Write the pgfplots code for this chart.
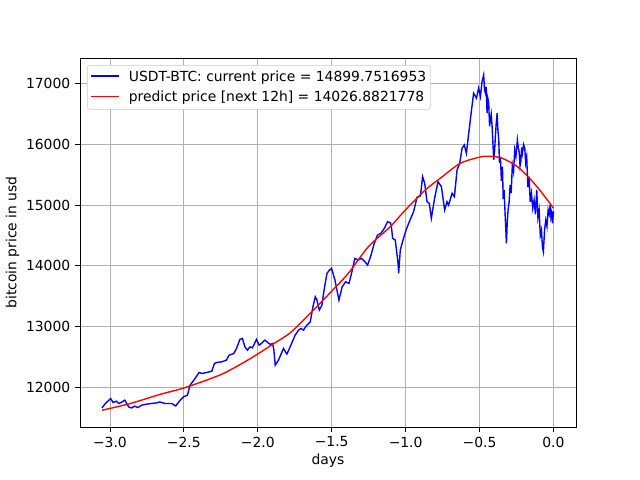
\documentclass[border=0pt]{standalone}
\usepackage{pgfplots}
\pgfplotsset{compat=1.18}
\usepackage{fontspec}
\setmainfont{DejaVu Sans}
\newcommand{\legline}[1]{\textcolor{#1}{\rule[0.33em]{20pt}{1pt}}\hspace{7pt}}
\begin{document}
\begin{tikzpicture}
\begin{axis}[
  at={(0pt,0pt)}, anchor=south west,
  scale only axis, width=357.12pt, height=265.68pt,
  xmin=-3.2025, xmax=0.1525, ymin=11344, ymax=17426,
  scaled y ticks=false, scaled x ticks=false,
  xtick={-3,-2.5,-2,-1.5,-1,-0.5,0},
  xticklabels={−3.0,−2.5,−2.0,−1.5,−1.0,−0.5,0.0},
  ytick={12000,13000,14000,15000,16000,17000},
  yticklabels={12000,13000,14000,15000,16000,17000},
  tick align=outside, major tick length=3.5pt,
  tick style={black, line width=0.576pt},
  xtick pos=bottom, ytick pos=left,
  axis line style={line width=0.576pt},
  grid=major, grid style={color=black!31, line width=0.576pt},
  tick label style={font=\fontsize{10}{12}\selectfont},
  xlabel={days}, ylabel={bitcoin price in usd},
  label style={font=\fontsize{10}{12}\selectfont},
  xlabel style={yshift=2pt},
  ylabel style={yshift=-2pt},
  legend style={at={(0.014,0.981)}, anchor=north west, draw=black!20, rounded corners=2pt,
     font=\fontsize{10}{12}\selectfont, row sep=1.5pt, inner xsep=1pt, inner ysep=2pt},
  legend cell align=left,
  legend image code/.code={},
]
\addplot[color=blue, line width=1pt] coordinates {
(-3.0535,11658) (-3.031,11731) (-2.995,11814) (-2.979,11748) (-2.957,11769) (-2.940,11731)
(-2.918,11757) (-2.900,11786) (-2.873,11675) (-2.855,11658) (-2.832,11687) (-2.810,11665)
(-2.787,11703) (-2.754,11720) (-2.720,11731) (-2.686,11741) (-2.663,11757) (-2.627,11731)
(-2.582,11731) (-2.555,11691) (-2.525,11786) (-2.503,11840) (-2.476,11868) (-2.458,12033)
(-2.424,12144) (-2.397,12243) (-2.378,12226) (-2.345,12243) (-2.311,12264) (-2.293,12391)
(-2.277,12408) (-2.246,12417) (-2.212,12446) (-2.194,12528) (-2.162,12556) (-2.144,12639)
(-2.121,12787) (-2.104,12804) (-2.087,12665) (-2.070,12611) (-2.053,12665) (-2.036,12649)
(-2.009,12787) (-1.991,12693) (-1.975,12721) (-1.952,12776) (-1.930,12731) (-1.914,12705)
(-1.900,12721) (-1.891,12611) (-1.882,12363) (-1.860,12446) (-1.826,12639) (-1.803,12545)
(-1.776,12693) (-1.747,12858) (-1.724,12941) (-1.708,12969) (-1.691,12941) (-1.668,13023)
(-1.645,13077) (-1.627,13325) (-1.611,13490) (-1.600,13436) (-1.584,13271) (-1.566,13353)
(-1.555,13546) (-1.544,13711) (-1.532,13876) (-1.515,13931) (-1.501,13959) (-1.478,13766)
(-1.451,13436) (-1.429,13655) (-1.406,13737) (-1.383,13711) (-1.366,13876) (-1.343,14123)
(-1.320,14096) (-1.298,14123) (-1.275,14068) (-1.257,14013) (-1.234,14178) (-1.212,14371)
(-1.190,14508) (-1.167,14536) (-1.144,14619) (-1.122,14727) (-1.104,14711) (-1.097,14673)
(-1.088,14454) (-1.070,14426) (-1.051,14041) (-1.047,13876) (-1.036,14261) (-1.014,14454)
(-0.997,14591) (-0.975,14727) (-0.946,14892) (-0.923,15130) (-0.900,15152) (-0.885,15470)
(-0.871,15361) (-0.855,15057) (-0.840,15031) (-0.826,14784) (-0.804,15114) (-0.781,15387)
(-0.758,15305) (-0.736,14920) (-0.720,15057) (-0.709,15003) (-0.686,15196) (-0.670,15140)
(-0.652,15581) (-0.634,15691) (-0.618,15939) (-0.603,15993) (-0.589,15856) (-0.573,16186)
(-0.557,16516) (-0.540,16846) (-0.521,16764) (-0.506,16929) (-0.494,16790) (-0.483,17037)
(-0.472,17148) (-0.466,16900) (-0.460,16846) (-0.455,16950) (-0.449,16516) (-0.443,16750)
(-0.438,16681) (-0.432,16300) (-0.427,16406) (-0.421,16500) (-0.415,16295) (-0.410,16050)
(-0.404,15746) (-0.398,15900) (-0.393,16130) (-0.387,16350) (-0.381,16516) (-0.376,16250)
(-0.370,16076) (-0.365,15700) (-0.359,15800) (-0.352,15400) (-0.345,15635) (-0.340,15100)
(-0.334,15251) (-0.326,14800) (-0.318,14371) (-0.313,14700) (-0.307,14921) (-0.300,15050)
(-0.293,15333) (-0.286,15200) (-0.278,15663) (-0.270,15550) (-0.262,15911) (-0.254,15800)
(-0.244,16076) (-0.238,15950) (-0.232,15882) (-0.226,15650) (-0.221,15717) (-0.215,15950)
(-0.210,15856) (-0.202,16000) (-0.194,15939) (-0.188,15700) (-0.181,15800) (-0.173,15300)
(-0.165,15470) (-0.157,15050) (-0.149,15196) (-0.140,14950) (-0.131,15085) (-0.122,14850)
(-0.113,15251) (-0.105,14800) (-0.097,14921) (-0.089,14500) (-0.081,14591) (-0.074,14300)
(-0.068,14232) (-0.060,14600) (-0.052,14755) (-0.044,14650) (-0.036,14921) (-0.029,14850)
(-0.022,15003) (-0.017,14800) (-0.012,14866) (-0.006,14700) (0,14900)
};
\addlegendentry{\legline{blue}USDT-BTC: current price = 14899.7516953}
\addplot[color=red, line width=1pt, smooth] coordinates {
(-3.0535,11620) (-2.864,11730) (-2.663,11880) (-2.496,11990) (-2.277,12180) (-2.167,12309)
(-2.031,12500) (-1.884,12731) (-1.781,12896) (-1.645,13216) (-1.498,13589) (-1.388,13876)
(-1.252,14315) (-1.104,14645) (-1.002,14920) (-0.867,15250) (-0.757,15460) (-0.630,15690)
(-0.494,15795) (-0.426,15805) (-0.347,15774) (-0.244,15635)
(-0.131,15361) (-0.041,15086) (0,14950)
};
\addlegendentry{\legline{red}predict price [next 12h] = 14026.8821778}
\end{axis}
\path[use as bounding box] (-57.6pt,-38.16pt) rectangle (403.2pt,307.44pt);
\end{tikzpicture}
\end{document}
